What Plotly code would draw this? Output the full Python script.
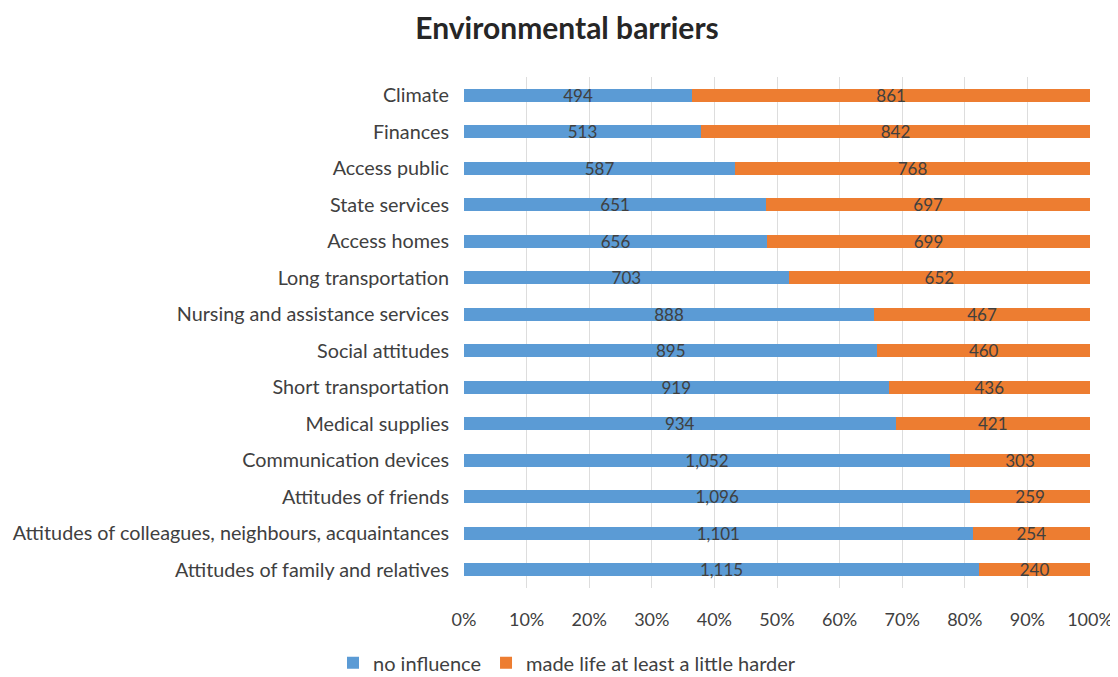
import plotly.graph_objects as go

categories = [
    "Climate", "Finances", "Access public", "State services", "Access homes",
    "Long transportation", "Nursing and assistance services", "Social attitudes",
    "Short transportation", "Medical supplies", "Communication devices",
    "Attitudes of friends", "Attitudes of colleagues, neighbours, acquaintances",
    "Attitudes of family and relatives",
]
no_influence = [494, 513, 587, 651, 656, 703, 888, 895, 919, 934, 1052, 1096, 1101, 1115]
made_harder = [861, 842, 768, 697, 699, 652, 467, 460, 436, 421, 303, 259, 254, 240]
tick_vals = [0, 10, 20, 30, 40, 50, 60, 70, 80, 90, 100]
tick_text = ["0%", "10%", "20%", "30%", "40%", "50%", "60%", "70%", "80%", "90%", "100%"]

FONT = "Lato"
TXT = "#404040"
fig = go.Figure()
fig.add_trace(go.Bar(
    y=categories, x=no_influence, name="no influence", orientation="h",
    marker=dict(color="#5B9BD5", line=dict(width=0)),
    text=no_influence, texttemplate="%{text:,}", textposition="inside",
    insidetextanchor="middle", constraintext="none",
    textfont=dict(color=TXT, size=17, family=FONT),
))
fig.add_trace(go.Bar(
    y=categories, x=made_harder, name="made life at least a little harder", orientation="h",
    marker=dict(color="#ED7D31", line=dict(width=0)),
    text=made_harder, texttemplate="%{text:,}", textposition="inside",
    insidetextanchor="middle", constraintext="none",
    textfont=dict(color=TXT, size=17, family=FONT),
))
fig.update_layout(
    barmode="stack", barnorm="percent", bargap=0.64,
    width=1118, height=677,
    paper_bgcolor="white", plot_bgcolor="white",
    margin=dict(l=456, r=36, t=69, b=97),
    font=dict(family=FONT, color=TXT, size=18),
    title=dict(text="<b>Environmental barriers</b>", x=0.5, xref="container", xanchor="center",
               y=0.97, yref="container", yanchor="middle",
               font=dict(size=30, color="#262626", family=FONT)),
    legend=dict(orientation="h", x=0.5, xref="container", xanchor="center",
                y=0.004, yref="container", yanchor="bottom",
                font=dict(size=20, color=TXT), traceorder="normal",
                itemwidth=30),
    xaxis=dict(range=[0, 100], tickvals=tick_vals, ticktext=tick_text,
               showgrid=True, gridcolor="#DDDDDD", gridwidth=1, zeroline=False,
               showline=False, ticks="", ticklabelstandoff=19, automargin=False,
               tickfont=dict(size=18, color=TXT)),
    yaxis=dict(autorange="reversed", showgrid=False, ticks="", ticklabelstandoff=14,
               automargin=False, tickfont=dict(size=19.8, color=TXT)),
)
fig.write_html("out.html")
